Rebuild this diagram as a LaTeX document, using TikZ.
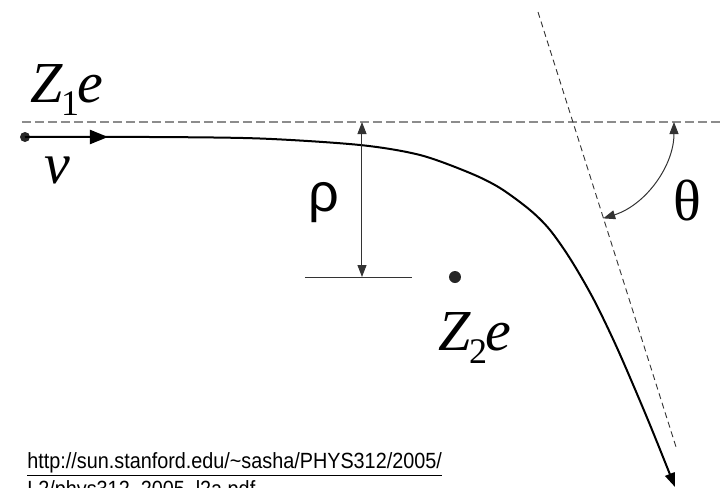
\documentclass[tikz,border=0pt]{standalone}
\usepackage{fontspec}
\setmainfont{Liberation Serif}
\newfontfamily\sansfont{Liberation Sans}
\usetikzlibrary{arrows.meta}

\begin{document}
\begin{tikzpicture}[x=0.5pt, y=-0.5pt, font=\fontsize{29}{32}\selectfont,
  dot/.style={circle, fill=black!85, inner sep=0pt, minimum size=#1},
  path/.style={line width=1pt, -{Triangle[length=7pt,width=5pt]}},
  guide/.style={black!45, line width=1pt, dash pattern=on 4.5pt off 2pt},
  asym/.style={black!80, line width=0.45pt, dash pattern=on 3pt off 2pt},
  measure/.style={black!80, line width=0.5pt, {Triangle[length=6pt,width=4.5pt]}-{Triangle[length=6pt,width=4.5pt]}},
  url/.style={anchor=base west, inner sep=0pt, font=\sansfont\fontsize{11}{14}\selectfont}]
  \clip (0,0) rectangle (720,488);
  % reference lines
  \draw[guide] (22,122) -- (720,122);
  \draw[asym] (538,12) -- (677,450);
  \coordinate (pivot) at (573,122);
  % projectile and target
  \node[dot=5pt] (proj) at (25,137) {};
  \node[dot=6pt] (target) at (455,277) {};
  \draw[path] (proj.center) plot[smooth, tension=0.5] coordinates
    {(25,137) (150,137) (260,138.5) (360,145) (420,155) (470,173) (500,188)
     (530,210) (550,230) (571,260) (594,300) (618,350) (648,420) (675,487)};
  \draw[line width=1pt, -{Triangle[length=9pt,width=7pt]}] (proj.center) -- (108,137);
  \node[anchor=base west, inner sep=0pt] (zone) at (30,102)
    {\textit{Z}\kern-1pt\raisebox{-0.24em}{\fontsize{18}{18}\selectfont 1}\kern-1pt\textit{e}};
  \node[anchor=base west, inner sep=0pt] (vel) at (44,183) {\textit{v}};
  \node[anchor=base west, inner sep=0pt] (ztwo) at (438,350)
    {\textit{Z}\kern-1pt\raisebox{-0.24em}{\fontsize{18}{18}\selectfont 2}\kern-1pt\textit{e}};
  % impact parameter
  \coordinate (rtop) at (362,122);
  \coordinate (rbot) at (362,277);
  \draw[black!80, line width=0.5pt] (305,277) -- (412,277);
  \draw[measure] (rtop) -- (rbot);
  \node[anchor=base west, inner sep=0pt, font=\sansfont\fontsize{27}{30}\selectfont] (rho) at (308,211) {ρ};
  % scattering angle
  \draw[measure] ([shift={(0:101)}]pivot) arc[start angle=0, end angle=72.6, radius=101];
  \node[anchor=base west, inner sep=0pt] (theta) at (673,220) {θ};
  % source
  \node[url] (src) at (27,468) {\scalebox{0.9}[1]{\underline{http://sun.stanford.edu/\textasciitilde sasha/PHYS312/2005/}}};
  \node[url] (srctail) at (27,496) {\scalebox{0.9}[1]{L2/phys312\_2005\_l2a.pdf}};
\end{tikzpicture}
\end{document}
